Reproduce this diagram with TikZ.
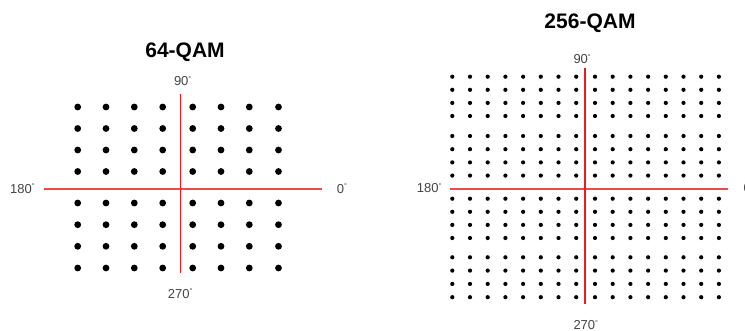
\documentclass[tikz,border=0pt]{standalone}
\usepackage{fontspec}
\setmainfont{Liberation Sans}
\definecolor{lbl}{HTML}{444444}
\definecolor{axred}{HTML}{F01A1E}
\tikzset{
  title/.style={font=\fontsize{21}{23}\selectfont\bfseries, text=black, inner sep=0pt, anchor=base},
  deg/.style={font=\fontsize{13}{15}\selectfont, text=lbl, inner sep=0pt, anchor=base west},
  axis/.style={draw=axred, line width=1.2pt},
  haxis/.style={fill=axred!80},
}
\newcommand{\dg}[1]{#1\textsuperscript{\fontsize{7}{7}\selectfont°}}
\begin{document}
\begin{tikzpicture}[x=1pt,y=-1pt]
\useasboundingbox (0,0) rectangle (745,331);
% ---------- 64-QAM ----------
\node[title] (t64) at (185,57.7) {64-QAM};
\coordinate (a64top) at (180.3,94);
\coordinate (a64bot) at (180.3,273.3);
\coordinate (a64left) at (44.3,188.5);
\coordinate (a64right) at (322,190.5);
\path[haxis] (a64left) rectangle (a64right);
\draw[axis] (a64top) -- (a64bot);
\foreach \x in {77.7,106,134.3,162.7,192.7,221,249.3,278.5}
  \foreach \y in {107,128.5,150,171.5,203,224.7,246.3,268}
    \fill (\x,\y) circle (3.4);
\node[deg] (n90a) at (173.8,86) {\dg{90}};
\node[deg] (n180a) at (10,193.3) {\dg{180}};
\node[deg] (n0a) at (336.7,193.3) {\dg{0}};
\node[deg] (n270a) at (167.7,298.3) {\dg{270}};
% ---------- 256-QAM ----------
\node[title] (t256) at (590,28.3) {256-QAM};
\coordinate (a256top) at (585,67.7);
\coordinate (a256bot) at (585,304);
\coordinate (a256left) at (450,188.5);
\coordinate (a256right) at (728.3,190.5);
\path[haxis] (a256left) rectangle (a256right);
\draw[axis] (a256top) -- (a256bot);
\foreach \x in {452.3,470,487.7,505.4,523.1,540.8,558.5,576.2,595,612.7,630.4,648.1,665.8,683.5,701.2,718.9}
  \foreach \y in {76.7,89.8,102.9,116,136,149.2,162.4,175.6,198.7,211.8,224.9,238,257.3,270.6,283.9,297.2}
    \fill (\x,\y) circle (2.1);
\node[deg] (n90b) at (573.3,64) {\dg{90}};
\node[deg] (n180b) at (416.7,192.7) {\dg{180}};
\node[deg] (n0b) at (743.3,192.7) {\dg{0}};
\node[deg] (n270b) at (573.3,330) {\dg{270}};
\end{tikzpicture}
\end{document}
